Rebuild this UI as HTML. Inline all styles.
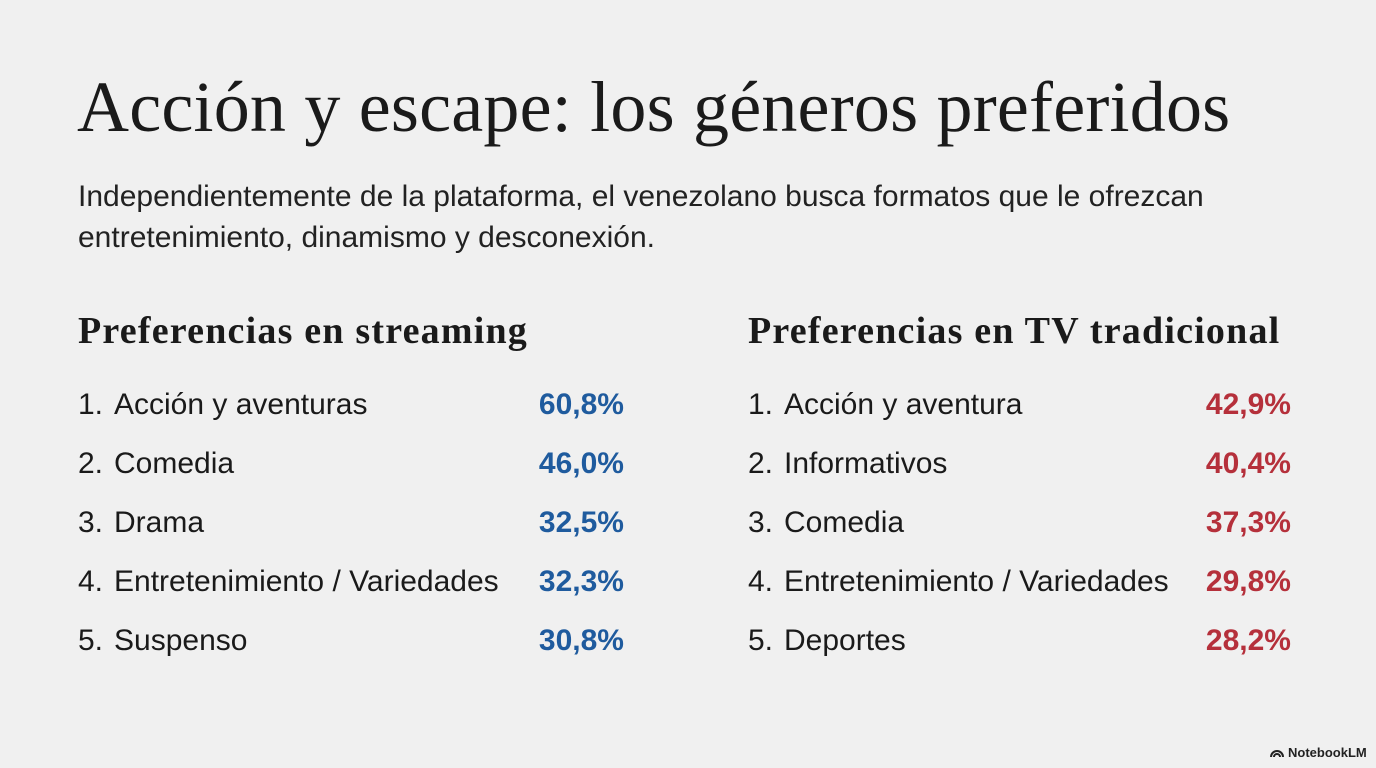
<!DOCTYPE html>
<html><head><meta charset="utf-8"><style>
body{margin:0;width:1376px;height:768px;background:#f0f0f0;overflow:hidden;position:relative;font-family:"Liberation Sans",sans-serif;color:#1a1a1a}
.title{position:absolute;left:77px;top:66px;font-family:"Liberation Serif",serif;font-size:72px;letter-spacing:0.2px;white-space:nowrap;color:#1a1a1a}
.sub{position:absolute;left:78px;top:176px;font-size:30px;line-height:41px;color:#222}
.h{position:absolute;top:309px;font-family:"Liberation Serif",serif;font-weight:bold;font-size:38px;letter-spacing:1.2px;white-space:nowrap}
.row{position:absolute;font-size:30px;white-space:nowrap;height:34px;line-height:34px}
.num{position:absolute;left:0}
.lbl{position:absolute;left:36px}
.val{position:absolute;font-weight:bold;text-align:right}
.logo{position:absolute;left:1270px;top:745px;font-size:13px;font-weight:bold;color:#222}
</style></head><body>
<div class="title">Acción y escape: los géneros preferidos</div>
<div class="sub">Independientemente de la plataforma, el venezolano busca formatos que le ofrezcan<br>entretenimiento, dinamismo y desconexión.</div>
<div class="h" style="left:78px">Preferencias en streaming</div>
<div class="h" style="left:748px">Preferencias en TV tradicional</div>
<div id="lists"></div>
<div class="logo"><svg width="14" height="11" viewBox="0 0 14 11" style="vertical-align:-1px;margin-right:4px"><path d="M1 10 A6 6 0 0 1 13 10 M4 10 A3 3 0 0 1 10 10" stroke="#222" stroke-width="2" fill="none"/></svg>NotebookLM</div>
<script>
const streamingGenres=["Acción y aventuras","Comedia","Drama","Entretenimiento / Variedades","Suspenso"];
const streamingValues=["60,8%","46,0%","32,5%","32,3%","30,8%"];
const tvGenres=["Acción y aventura","Informativos","Comedia","Entretenimiento / Variedades","Deportes"];
const tvValues=["42,9%","40,4%","37,3%","29,8%","28,2%"];
const root=document.getElementById('lists');
function build(genres,values,left,right,color,prefix){
  genres.forEach((g,i)=>{
    const r=document.createElement('div');
    r.className='row';
    r.style.left=left+'px';
    r.style.top=(388+i*59)+'px';
    r.style.width=(right-left)+'px';
    
    
    r.innerHTML='<span class="num">'+(i+1)+'.</span><span class="lbl">'+g+'</span><span class="val" style="right:0;color:'+color+'">'+values[i]+'</span>';
    root.appendChild(r);
  });
}
build(streamingGenres,streamingValues,78,624,'#1f5b9e','streaming');
build(tvGenres,tvValues,748,1291,'#b5303b','tv');
</script>
</body></html>
